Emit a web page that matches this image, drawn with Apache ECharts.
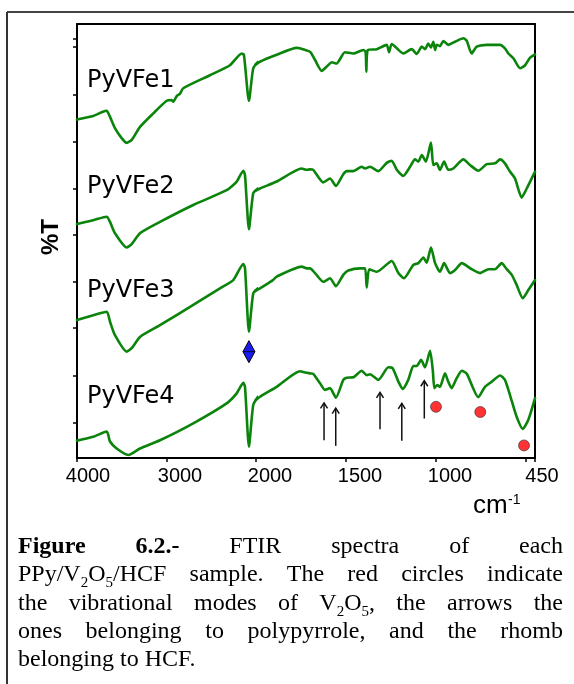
<!DOCTYPE html>
<html><head><meta charset="utf-8">
<script src="https://cdn.jsdelivr.net/npm/echarts@6/dist/echarts.min.js"></script>
<style>html,body{margin:0;padding:0;background:#fff}#c{width:574px;height:684px}</style>
</head><body><div id="c"></div>
<script>
// ---- data: [wavenumber (cm-1), %T (arbitrary, offset)] ----
const specPyVFe1 = [[4000,78.0],[3818,78.8],[3710,79.8],[3668,80.0],[3631,78.6],[3576,76.0],[3501,73.7],[3445,72.6],[3389,73.3],[3296,76.3],[3148,79.4],[2998,82.3],[2942,82.5],[2924,82.1],[2886,83.4],[2850,83.9],[2813,85.2],[2514,88.2],[2291,90.5],[2160,93.2],[2135,92.9],[2079,82.3],[2031,89.8],[1978,91.3],[1885,92.9],[1774,94.5],[1756,94.4],[1700,93.6],[1672,91.7],[1635,89.2],[1607,90.2],[1579,91.2],[1552,90.9],[1506,93.5],[1459,93.2],[1404,94.0],[1391,93.6],[1387,89.0],[1379,94.0],[1329,94.2],[1274,95.2],[1261,93.5],[1246,95.4],[1182,93.2],[1135,94.2],[1107,93.1],[1079,94.8],[1061,94.2],[1043,95.5],[1028,94.6],[1015,95.9],[1005,94.0],[996,95.2],[978,94.9],[959,96.1],[932,95.2],[894,95.9],[848,96.7],[829,96.1],[802,93.2],[774,94.8],[718,95.2],[644,95.2],[617,94.4],[598,93.2],[570,92.1],[533,89.8],[505,90.5],[478,92.2],[450,93.0]];
const specPyVFe2 = [[4000,53.9],[3818,54.8],[3668,55.6],[3631,54.4],[3576,51.8],[3445,48.5],[3389,49.3],[3296,51.8],[3073,54.4],[2701,58.3],[2328,61.7],[2216,63.7],[2142,66.2],[2123,65.2],[2079,52.7],[2031,61.0],[1978,62.1],[1885,63.7],[1746,66.7],[1718,66.4],[1700,66.5],[1682,66.4],[1626,63.5],[1589,64.4],[1556,62.7],[1515,65.4],[1496,66.1],[1459,66.1],[1413,67.1],[1394,66.7],[1367,67.1],[1320,66.1],[1274,68.0],[1246,68.5],[1218,66.4],[1182,65.0],[1144,67.1],[1117,68.8],[1098,68.3],[1079,69.8],[1056,68.3],[1028,72.7],[1015,67.5],[996,67.9],[978,66.4],[955,68.3],[932,66.4],[904,66.7],[848,68.8],[811,67.5],[765,66.2],[718,67.7],[672,67.9],[644,68.8],[617,67.9],[589,66.0],[561,64.4],[524,60.0],[496,62.1],[450,66.0]];
const specPyVFe3 = [[4000,31.8],[3818,32.9],[3668,33.7],[3631,31.4],[3576,28.3],[3445,24.5],[3389,25.3],[3296,27.9],[3073,30.6],[2701,35.3],[2403,39.1],[2254,41.0],[2142,44.7],[2123,43.8],[2079,29.1],[2031,37.9],[1978,39.1],[1906,41.0],[1885,41.8],[1746,44.1],[1718,43.7],[1700,43.7],[1672,42.6],[1626,40.6],[1589,41.4],[1556,39.6],[1515,42.2],[1487,43.2],[1422,43.7],[1394,43.7],[1385,39.3],[1371,43.5],[1329,42.9],[1246,45.4],[1209,42.6],[1178,41.4],[1126,44.5],[1098,44.9],[1070,46.2],[1052,45.0],[1028,48.5],[1005,44.9],[978,42.9],[955,44.9],[922,42.6],[894,43.3],[857,44.9],[802,43.5],[755,42.6],[709,43.5],[672,43.5],[635,44.9],[607,43.5],[579,42.2],[552,39.9],[518,36.8],[487,38.7],[450,41.0]];
const specPyVFe4 = [[4000,4.0],[3818,4.9],[3668,6.1],[3631,3.8],[3557,2.2],[3427,0.7],[3296,2.2],[3073,4.1],[2701,8.0],[2328,12.6],[2216,14.9],[2142,17.3],[2123,16.4],[2079,2.6],[2031,12.2],[1978,14.1],[1885,16.4],[1756,20.0],[1728,19.7],[1700,19.5],[1682,19.4],[1644,17.2],[1617,15.7],[1589,16.1],[1556,13.9],[1515,18.0],[1496,18.5],[1459,18.6],[1413,20.1],[1385,19.1],[1367,19.3],[1320,18.0],[1265,20.9],[1241,20.7],[1209,17.6],[1185,15.9],[1154,18.0],[1126,21.2],[1107,21.2],[1083,22.6],[1061,20.9],[1033,24.7],[1018,20.3],[1009,16.1],[993,16.8],[978,16.4],[950,19.5],[932,17.6],[913,16.1],[885,18.4],[857,20.1],[829,19.4],[765,14.0],[728,16.4],[690,17.6],[644,19.0],[617,18.0],[589,14.5],[552,9.5],[518,6.7],[487,8.8],[450,13.8]];
const sampleNames = ['PyVFe1','PyVFe2','PyVFe3','PyVFe4'];
const xTicksHigh = [4000,3000,2000];
const xTicksLow = [2000,1500,1000,500,450];
const xLabelsHigh = [4000,3000];
const xLabelsLow = [2000,1500,1000,450];
const yTicks = [96.7,94.8,83.6,72.9,62.1,51.4,40.6,29.9,19.0,8.1];
const hcfRhomb = [[2079,24.5]];
const v2o5Circles = [[1000,11.8],[754,10.6],[511,2.9]];
const ppyArrows = [[1622,4.1,12.7],[1557,2.8,11.5],[1311,6.6,15.1],[1190,4.0,12.6],[1065,9.1,17.8]];
const BREAK = 2000;

// ---- helpers ----
function highPart(s){ const i = s.findIndex(p => p[0] < BREAK); return s.slice(0, i + 1); }
function lowPart(s){ const i = s.findIndex(p => p[0] < BREAK); return s.slice(i - 1); }
const spectra = [specPyVFe1, specPyVFe2, specPyVFe3, specPyVFe4];
const GREEN = '#0b840b';
const SANS = '"Liberation Sans", Arial, sans-serif';
const SERIF = '"Liberation Serif", "Times New Roman", serif';

const chart = echarts.init(document.getElementById('c'), null, {renderer:'canvas'});
const axLine = {show:true, onZero:false, lineStyle:{color:'#000', width:2}};
const labelRich = (pads) => {
  const r = {};
  Object.keys(pads).forEach(k => { r[k] = {fontSize:20, fontFamily:SANS, color:'#000', padding:[0,0,0,pads[k]]}; });
  return r;
};

const series = [];
spectra.forEach(s => {
  series.push({type:'line', xAxisIndex:0, yAxisIndex:0, data:highPart(s), showSymbol:false, clip:true, silent:true, smooth:0.2,
    lineStyle:{color:GREEN, width:2.6, join:'round', cap:'round'}});
  series.push({type:'line', xAxisIndex:1, yAxisIndex:1, data:lowPart(s), showSymbol:false, clip:true, silent:true, smooth:0.2,
    lineStyle:{color:GREEN, width:2.6, join:'round', cap:'round'}});
});
series.push({type:'custom', xAxisIndex:0, yAxisIndex:0, data:hcfRhomb, silent:true, z:5,
  renderItem:(params, api) => {
    const p = api.coord([api.value(0), api.value(1)]);
    const w = 6, h = 11;
    return {type:'group', children:[
      {type:'polygon', shape:{points:[[p[0],p[1]-h],[p[0]+w,p[1]],[p[0],p[1]+h],[p[0]-w,p[1]]]},
        style:{fill:'#1b1bf0', stroke:'#000', lineWidth:1}},
      {type:'line', shape:{x1:p[0]-w, y1:p[1], x2:p[0]+w, y2:p[1]}, style:{stroke:'#000', lineWidth:0.8}}
    ]};
  }});
series.push({type:'scatter', xAxisIndex:1, yAxisIndex:1, data:v2o5Circles, symbol:'circle', symbolSize:11, silent:true, z:5,
  itemStyle:{color:'#ff0000', borderColor:'#333', borderWidth:0.8}});
series.push({type:'custom', xAxisIndex:1, yAxisIndex:1, data:ppyArrows, silent:true, z:5,
  renderItem:(params, api) => {
    const a = api.coord([api.value(0), api.value(1)]);
    const b = api.coord([api.value(0), api.value(2)]);
    return {type:'group', children:[
      {type:'line', shape:{x1:a[0], y1:a[1], x2:b[0], y2:b[1]}, style:{stroke:'#111', lineWidth:1.5}},
      {type:'polyline', shape:{points:[[b[0]-3.5,b[1]+5.5],[b[0],b[1]],[b[0]+3.5,b[1]+5.5]]}, style:{stroke:'#111', lineWidth:1.5, fill:null}}
    ]};
  }});

// ---- graphic texts ----
const graphics = [];
graphics.push({type:'line', shape:{x1:7, y1:12, x2:574, y2:12}, style:{stroke:'#444', lineWidth:2}, silent:true});
graphics.push({type:'line', shape:{x1:7, y1:12, x2:7, y2:684}, style:{stroke:'#333', lineWidth:2}, silent:true});
const nameY = [81, 187, 291, 397];
sampleNames.forEach((n, i) => {
  graphics.push({type:'text', x:87, y:nameY[i], silent:true,
    style:{text:n, fontSize:24, fontFamily:'"Comic Sans MS", "DejaVu Sans", sans-serif', fill:'#000', align:'left', verticalAlign:'middle'}});
});
graphics.push({type:'text', x:51, y:237, rotation:Math.PI/2, silent:true,
  style:{text:'%T', fontSize:24, fontWeight:'bold', fontFamily:SANS, fill:'#000', align:'center', verticalAlign:'middle'}});
graphics.push({type:'text', x:473, y:506, silent:true,
  style:{text:'cm', fontSize:26, fontFamily:SANS, fill:'#000', align:'left', verticalAlign:'middle'}});
graphics.push({type:'text', x:508, y:500, silent:true,
  style:{text:'-1', fontSize:14, fontFamily:SANS, fill:'#000', align:'left', verticalAlign:'middle'}});

const capLines = [
  {base:555, justify:true, words:[[['Figure','b']],[['6.2.-','b']],[['FTIR']],[['spectra']],[['of']],[['each']]]},
  {base:583, justify:true, words:[[['PPy/V'],['2','s'],['O'],['5','s'],['/HCF']],[['sample.']],[['The']],[['red']],[['circles']],[['indicate']]]},
  {base:612, justify:true, words:[[['the']],[['vibrational']],[['modes']],[['of']],[['V'],['2','s'],['O'],['5','s'],[',']],[['the']],[['arrows']],[['the']]]},
  {base:640, justify:true, words:[[['ones']],[['belonging']],[['to']],[['polypyrrole,']],[['and']],[['the']],[['rhomb']]]},
  {base:668, justify:false, words:[[['belonging']],[['to']],[['HCF.']]]}
];
const ctx = document.createElement('canvas').getContext('2d');
function segSize(st){ return st === 's' ? 15 : 24; }
function segWeight(st){ return st === 'b' ? 'bold' : 'normal'; }
function segW(seg){ const st = seg[1] || ''; ctx.font = segWeight(st) + ' ' + segSize(st) + 'px ' + SERIF; return ctx.measureText(seg[0]).width; }
const X0 = 18, X1 = 563;
capLines.forEach(line => {
  const widths = line.words.map(w => w.reduce((a, s) => a + segW(s), 0));
  const total = widths.reduce((a, b) => a + b, 0);
  ctx.font = 'normal 24px ' + SERIF;
  const space = ctx.measureText(' ').width;
  const gap = line.justify ? (X1 - X0 - total) / (line.words.length - 1) : space;
  let x = X0;
  line.words.forEach(w => {
    w.forEach(seg => {
      const st = seg[1] || '';
      const y = st === 's' ? line.base : line.base - 8;
      graphics.push({type:'text', x:x, y:y, silent:true,
        style:{text:seg[0], fontSize:segSize(st), fontWeight:segWeight(st), fontFamily:SERIF, fill:'#000', align:'left', verticalAlign:'middle'}});
      x += segW(seg);
    });
    x += gap;
  });
});

chart.setOption({
  animation:false,
  backgroundColor:'#fff',
  grid:[{left:77, right:318, top:24, bottom:226}, {left:256, right:39, top:24, bottom:226}],
  xAxis:[
    {gridIndex:0, type:'value', min:BREAK, max:4000, inverse:true, position:'bottom', axisLine:axLine,
      axisTick:{show:true, customValues:xTicksHigh, length:4, lineStyle:{color:'#000', width:1.5}},
      axisLabel:{show:true, customValues:xLabelsHigh, margin:8, formatter:v => (v === 4000 ? '{e|' : '{n|') + v + '}', rich:labelRich({e:22, n:27})},
      splitLine:{show:false}},
    {gridIndex:1, type:'value', min:450, max:BREAK, inverse:true, position:'bottom', axisLine:axLine,
      axisTick:{show:true, customValues:xTicksLow, length:4, lineStyle:{color:'#000', width:1.5}},
      axisLabel:{show:true, customValues:xLabelsLow, margin:8, formatter:v => (v === 450 ? '{e|' : '{n|') + v + '}', rich:labelRich({e:14, n:28})},
      splitLine:{show:false}},
    {gridIndex:0, type:'value', min:BREAK, max:4000, inverse:true, position:'top', axisLine:axLine,
      axisTick:{show:false}, axisLabel:{show:false}, splitLine:{show:false}},
    {gridIndex:1, type:'value', min:450, max:BREAK, inverse:true, position:'top', axisLine:axLine,
      axisTick:{show:false}, axisLabel:{show:false}, splitLine:{show:false}}
  ],
  yAxis:[
    {gridIndex:0, type:'value', min:0, max:100, position:'left', axisLine:axLine,
      axisTick:{show:true, customValues:yTicks, length:4, lineStyle:{color:'#000', width:1.5}},
      axisLabel:{show:false}, splitLine:{show:false}},
    {gridIndex:1, type:'value', min:0, max:100, position:'right', axisLine:axLine,
      axisTick:{show:false}, axisLabel:{show:false}, splitLine:{show:false}}
  ],
  series:series,
  graphic:graphics
});
</script></body></html>
